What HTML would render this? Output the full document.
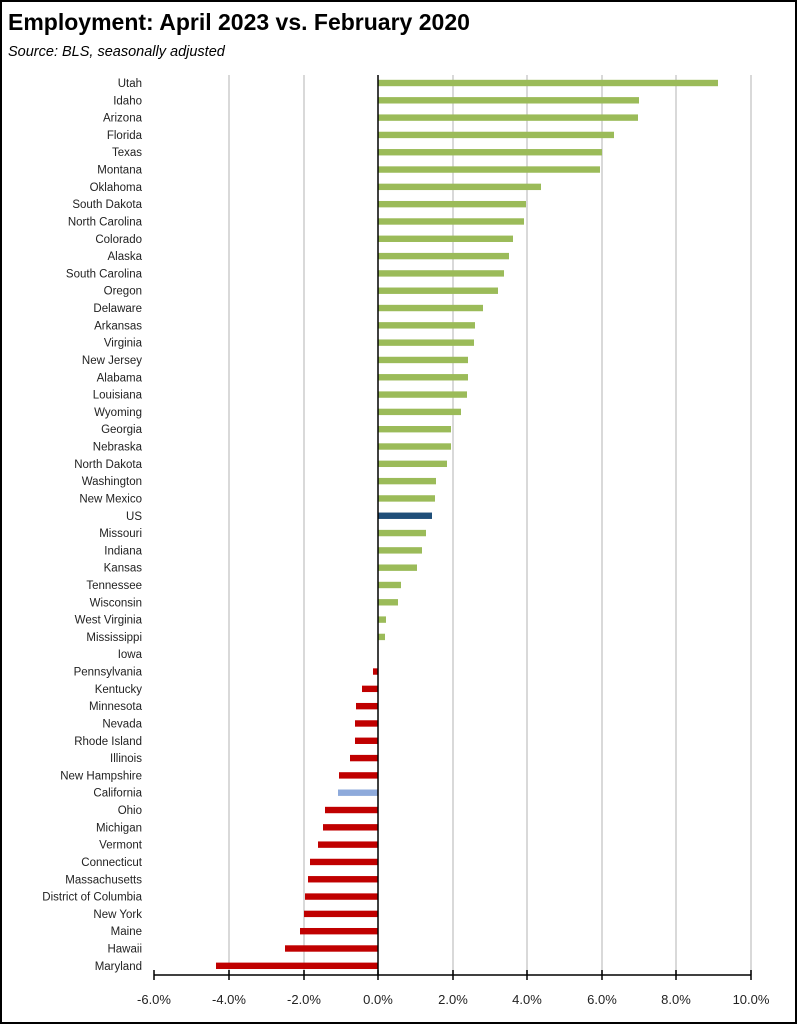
<!DOCTYPE html>
<html><head><meta charset="utf-8"><style>
html,body{margin:0;padding:0;background:#fff;}
svg{display:block;font-family:"Liberation Sans",sans-serif;}
</style></head><body>
<svg width="797" height="1024" viewBox="0 0 797 1024" xmlns="http://www.w3.org/2000/svg">
<rect x="1" y="1" width="795" height="1022" fill="#fff" stroke="#000" stroke-width="2"/>
<text x="8" y="30" font-size="23" font-weight="bold">Employment:  April 2023 vs. February 2020</text>
<text x="8" y="56" font-size="14.5" font-style="italic">Source:  BLS, seasonally adjusted</text>
<g stroke="#d9d9d9" stroke-width="2">
<line x1="229" y1="75" x2="229" y2="975"/><line x1="304" y1="75" x2="304" y2="975"/>
<line x1="453" y1="75" x2="453" y2="975"/><line x1="527" y1="75" x2="527" y2="975"/>
<line x1="602" y1="75" x2="602" y2="975"/><line x1="676" y1="75" x2="676" y2="975"/>
<line x1="751" y1="75" x2="751" y2="975"/>
</g>
<g id="bars"></g>
<line x1="378" y1="75" x2="378" y2="975" stroke="#000" stroke-width="1.5"/>
<line x1="154" y1="975" x2="751" y2="975" stroke="#000" stroke-width="1.5"/>
<g stroke="#000" stroke-width="1.5">
<line x1="154" y1="970" x2="154" y2="980"/><line x1="229" y1="970" x2="229" y2="980"/><line x1="304" y1="970" x2="304" y2="980"/><line x1="378" y1="970" x2="378" y2="980"/><line x1="453" y1="970" x2="453" y2="980"/><line x1="527" y1="970" x2="527" y2="980"/><line x1="602" y1="970" x2="602" y2="980"/><line x1="676" y1="970" x2="676" y2="980"/><line x1="751" y1="970" x2="751" y2="980"/>
</g>
<g font-size="13" text-anchor="middle" fill="#222">
<text x="154" y="1004">-6.0%</text><text x="229" y="1004">-4.0%</text><text x="304" y="1004">-2.0%</text><text x="378" y="1004">0.0%</text><text x="453" y="1004">2.0%</text><text x="527" y="1004">4.0%</text><text x="602" y="1004">6.0%</text><text x="676" y="1004">8.0%</text><text x="751" y="1004">10.0%</text>
</g>
<g id="labels" font-size="11.5" text-anchor="end" fill="#222"></g>
<script>
var d=[["Utah",718],["Idaho",639],["Arizona",638],["Florida",614],["Texas",602],["Montana",600],["Oklahoma",541],["South Dakota",526],["North Carolina",524],["Colorado",513],["Alaska",509],["South Carolina",504],["Oregon",498],["Delaware",483],["Arkansas",475],["Virginia",474],["New Jersey",468],["Alabama",468],["Louisiana",467],["Wyoming",461],["Georgia",451],["Nebraska",451],["North Dakota",447],["Washington",436],["New Mexico",435],["US",432],["Missouri",426],["Indiana",422],["Kansas",417],["Tennessee",401],["Wisconsin",398],["West Virginia",386],["Mississippi",385],["Iowa",378],["Pennsylvania",373],["Kentucky",362],["Minnesota",356],["Nevada",355],["Rhode Island",355],["Illinois",350],["New Hampshire",339],["California",338],["Ohio",325],["Michigan",323],["Vermont",318],["Connecticut",310],["Massachusetts",308],["District of Columbia",305],["New York",304],["Maine",300],["Hawaii",285],["Maryland",216]];
var ns="http://www.w3.org/2000/svg",b=document.getElementById("bars"),l=document.getElementById("labels");
d.forEach(function(r,i){var y=83+i*17.31;var c=r[0]=="US"?"#1f4e79":r[0]=="California"?"#8eaadb":r[1]>=378?"#9bbb59":"#c00000";
var x1=Math.min(378,r[1]),w=Math.abs(r[1]-378);
if(w>0){var e=document.createElementNS(ns,"rect");e.setAttribute("x",x1);e.setAttribute("y",y-3.2);e.setAttribute("width",w);e.setAttribute("height",6.4);e.setAttribute("fill",c);b.appendChild(e);}
var t=document.createElementNS(ns,"text");t.setAttribute("x",142);t.setAttribute("y",y+4);t.textContent=r[0];l.appendChild(t);});
</script>
</svg>
</body></html>
